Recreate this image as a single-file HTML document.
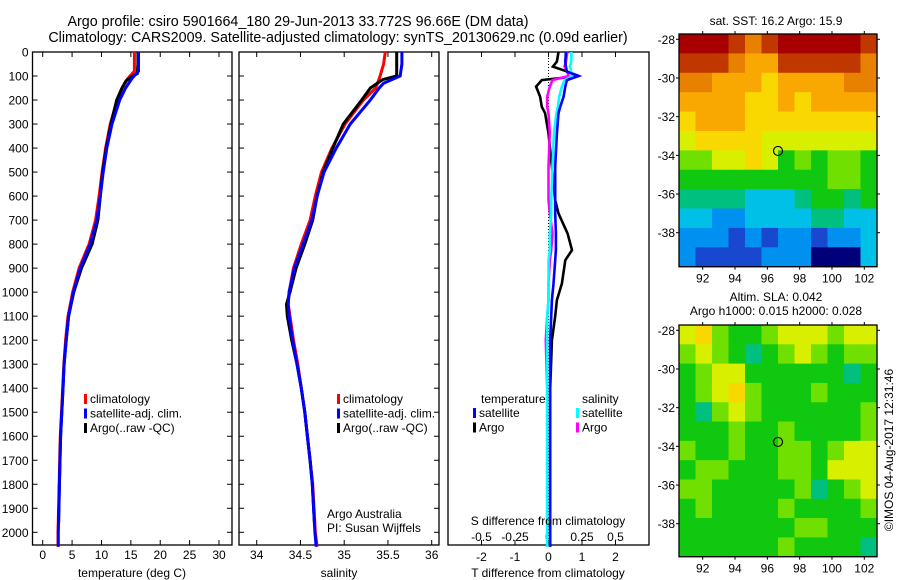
<!DOCTYPE html>
<html><head><meta charset="utf-8"><style>
html,body{margin:0;padding:0;background:#fff;}
svg{display:block;font-family:"Liberation Sans",sans-serif;}
text{fill:#000;}
</style></head><body>
<svg id="c" width="900" height="580" viewBox="0 0 900 580">
<text x="298" y="26" font-size="14.3" text-anchor="middle">Argo profile: csiro 5901664_180 29-Jun-2013 33.772S 96.66E (DM data)</text>
<text x="338" y="42" font-size="14.3" text-anchor="middle">Climatology: CARS2009. Satellite-adjusted climatology: synTS_20130629.nc (0.09d earlier)</text>
<g id="p1"></g>
<g id="p2"></g>
<g id="p3"></g>
<g id="m1"></g>
<g id="m2"></g>
<text x="776" y="25" font-size="12" text-anchor="middle">sat. SST: 16.2 Argo: 15.9</text>
<text x="776" y="301" font-size="12" text-anchor="middle">Altim. SLA: 0.042</text>
<text x="776" y="315" font-size="12" text-anchor="middle">Argo h1000: 0.015 h2000: 0.028</text>
<text transform="translate(893,450) rotate(-90)" font-size="12" text-anchor="middle">©IMOS 04-Aug-2017 12:31:46</text>
<text x="327" y="518" font-size="12">Argo Australia</text>
<text x="327" y="532" font-size="12">PI: Susan Wijffels</text>
</svg>
<script>
const NS="http://www.w3.org/2000/svg";
// ---- data ----
const tDepth=[0,50,80,110,150,200,300,400,500,600,700,800,900,1000,1100,1200,1300,1400,1500,1600,1700,1800,1900,2000,2060];
const tClim=[15.6,15.6,15.6,14.5,13.5,12.7,11.5,10.7,10.1,9.6,9.0,7.9,6.2,5.1,4.3,3.9,3.6,3.4,3.2,3.0,2.9,2.8,2.7,2.6,2.6];
const tSat=[16.3,16.3,16.3,15.2,14.1,13.1,11.8,10.9,10.3,9.8,9.2,8.1,6.4,5.2,4.4,4.0,3.65,3.45,3.25,3.05,2.95,2.85,2.75,2.65,2.65];
const argoDepth=[0,50,90,105,120,150,200,300,400,500,600,700,800,900,1000,1100,1200,1300,1400,1500,1600,1700,1800,1900,1960];
const tArgo=[16.2,16.2,16.1,15.0,14.2,13.5,12.6,11.6,10.8,10.2,9.8,9.4,8.4,6.6,5.3,4.4,4.0,3.65,3.45,3.25,3.05,2.95,2.85,2.75,2.7];
const sDepth=[0,50,100,130,150,200,300,400,500,600,700,800,900,1000,1050,1100,1200,1300,1400,1500,1600,1700,1800,1900,2000,2060];
const sClim=[35.47,35.45,35.41,35.38,35.36,35.22,35.01,34.86,34.74,34.67,34.61,34.51,34.42,34.37,34.36,34.38,34.42,34.47,34.51,34.55,34.58,34.61,34.64,34.655,34.67,34.69];
const sSat=[35.66,35.66,35.64,35.45,35.40,35.30,35.07,34.91,34.77,34.69,34.63,34.53,34.43,34.37,34.36,34.37,34.41,34.46,34.51,34.55,34.58,34.61,34.635,34.65,34.665,34.68];
const sArgoDepth=[0,50,100,115,150,200,300,400,500,600,700,800,900,1000,1050,1100,1200,1300,1400,1500,1600,1700,1800,1900,1960];
const sArgo=[35.60,35.60,35.60,35.44,35.30,35.20,34.99,34.87,34.76,34.69,34.64,34.55,34.45,34.38,34.34,34.35,34.40,34.46,34.51,34.55,34.58,34.61,34.635,34.65,34.66];
const dDepth=[0,40,61,82,100,117,144,186,228,255,339,478,617,672,756,825,867,964,1033,1100,1200,1400,1600,1800,2060];
const dTArgo=[0.3,0.25,0.13,0.57,0.9,-0.2,-0.37,-0.25,-0.2,-0.1,0,0.1,0.2,0.3,0.57,0.7,0.5,0.4,0.25,0.2,0.1,0.05,0.05,0.05,0.05];
const dTSat=[0.52,0.5,0.52,0.55,0.9,0.55,0.5,0.45,0.35,0.3,0.25,0.2,0.2,0.2,0.22,0.22,0.2,0.15,0.1,0.08,0.05,0.05,0.05,0.05,0.05];
const dSArgo=[0.14,0.13,0.12,0.14,0.15,0.03,0.01,-0.01,-0.01,0.0,0.01,0.0,0.0,0.01,0.03,0.02,0.01,0.0,0.0,-0.01,-0.02,-0.01,-0.01,-0.01,-0.01];
const dSSat=[0.17,0.17,0.16,0.17,0.18,0.12,0.1,0.08,0.07,0.06,0.04,0.03,0.02,0.02,0.01,0.01,0.0,0.0,0.0,-0.01,-0.01,-0.01,-0.01,-0.01,-0.01];
const depthTicks=[0,100,200,300,400,500,600,700,800,900,1000,1100,1200,1300,1400,1500,1600,1700,1800,1900,2000];
const tTicks=[0,5,10,15,20,25,30];
const sTicks=[34,34.5,35,35.5,36];
const sTickLabels=["34","34.5","35","35.5","36"];
const dTTicks=[-2,-1,0,1,2];
const dSTicks=[-0.5,-0.25,0,0.25,0.5];
const dSTickLabels=["-0.5","-0.25","0","0.25","0.5"];
const lonTicks=[92,94,96,98,100,102];
const latTicks=[-28,-30,-32,-34,-36,-38];
const floatLon=96.66, floatLat=-33.772;
const sstGrid=[
[12,12,12,11,10,11,12,12,12,12,12,11],
[11,11,11,10,9,9,11,11,11,11,11,10],
[10,10,9,9,9,8,9,9,9,9,10,10],
[9,9,9,9,8,8,9,8,9,9,9,9],
[8,9,9,9,8,8,8,8,8,8,8,8],
[7,8,8,8,8,7,7,7,7,7,7,7],
[6,6,7,7,8,7,5,6,5,6,6,5],
[5,5,5,5,5,5,5,5,5,6,6,5],
[4,4,4,4,3,3,3,4,5,5,4,5],
[3,3,2,2,3,3,3,3,4,4,3,3],
[2,2,2,1,2,1,2,2,1,2,2,3],
[2,1,1,1,1,2,2,2,0,0,0,3]];
const slaGrid=[
[7,8,6,5,5,6,7,7,7,6,7,7],
[6,7,6,5,4,5,6,7,6,5,6,6],
[5,6,7,7,5,5,5,5,5,5,4,5],
[5,6,7,8,6,5,5,5,6,5,5,5],
[5,4,6,7,6,5,5,5,5,5,5,6],
[5,5,5,6,5,5,6,5,5,5,5,6],
[6,5,5,6,5,5,6,6,5,6,7,7],
[5,6,6,5,5,5,6,6,5,7,7,7],
[6,6,5,5,5,5,5,6,4,5,6,7],
[5,6,5,5,5,5,6,5,5,5,5,6],
[5,5,5,5,5,5,5,6,6,5,5,5],
[5,5,5,5,5,5,6,5,5,5,5,4]];
const palette=["#00007a","#1848d0","#0090f0","#00c0e8","#00c080","#10c810","#70e000","#d8f000","#f8d800","#f8a800","#e88000","#c03800","#a80000"];
// ---- helpers ----
function el(tag,attrs,parent){const e=document.createElementNS(NS,tag);for(const k in attrs)e.setAttribute(k,attrs[k]);parent.appendChild(e);return e;}
function lin(d0,d1,r0,r1){return v=>r0+(v-d0)*(r1-r0)/(d1-d0);}
const Y=lin(0,2000,52,532.3);
const TOP=52,BOT=545;
function frame(g,x0,x1,name){const r=el('rect',{x:x0,y:TOP,width:x1-x0,height:BOT-TOP,fill:'none',stroke:'#000','stroke-width':1.3},g);}
function yTicks(g,x0,x1,labels){depthTicks.forEach(d=>{const y=Y(d);
 el('line',{x1:x0,y1:y,x2:x0+5,y2:y,stroke:'#000'},g);el('line',{x1:x1-5,y1:y,x2:x1,y2:y,stroke:'#000'},g);
 if(labels){const t=el('text',{x:x0-4,y:y+4.5,'font-size':12,'text-anchor':'end'},g);t.textContent=d;}});}
function xTicks(g,vals,labs,X,ly,nm,both){vals.forEach((v,i)=>{const x=X(v);
 el('line',{x1:x,y1:BOT,x2:x,y2:BOT-5,stroke:'#000'},g);if(both)el('line',{x1:x,y1:TOP,x2:x,y2:TOP+5,stroke:'#000'},g);
 const t=el('text',{x:x,y:ly,'font-size':12,'text-anchor':'middle'},g);t.textContent=labs[i];});}
function poly(g,xs,ds,X,color,w,name){const pts=xs.map((v,i)=>X(v).toFixed(1)+','+Y(ds[i]).toFixed(1)).join(' ');const p=el('polyline',{points:pts,fill:'none',stroke:color,'stroke-width':w,'stroke-linejoin':'miter'},g);}
function legend(g,x,y,items){items.forEach((it,i)=>{const yy=y+i*14.5;el('rect',{x:x,y:yy-9,width:3,height:10,fill:it[1]},g);const t=el('text',{x:x+6,y:yy,'font-size':12},g);t.textContent=it[0];});}
function txt(g,x,y,s,anchor,name){const t=el('text',{x:x,y:y,'font-size':12,'text-anchor':anchor||'start'},g);t.textContent=s;return t;}
// ---- panel 1 ----
const g1=document.getElementById('p1');
const X1=lin(0,30,42.7,219);
frame(g1,32.5,232,'temperature-axes');yTicks(g1,32.5,232,true);
xTicks(g1,tTicks,tTicks.map(String),X1,559,'temperature-tick-label',true);
txt(g1,132,577,'temperature (deg C)','middle','temperature-axis-title');
poly(g1,tClim,tDepth,X1,'#f00',3,'temperature-climatology-line');
poly(g1,tArgo,argoDepth,X1,'#000',3,'temperature-argo-line');
poly(g1,tSat,tDepth,X1,'#00f',3,'temperature-satellite-line');
legend(g1,84,403,[['climatology','#f00'],['satellite-adj. clim.','#00f'],['Argo(..raw -QC)','#000']]);
// ---- panel 2 ----
const g2=document.getElementById('p2');
const X2=lin(34,36,256.7,431.7);
frame(g2,239,439,'salinity-axes');yTicks(g2,239,439,false);
xTicks(g2,sTicks,sTickLabels,X2,559,'salinity-tick-label',true);
txt(g2,339,577,'salinity','middle','salinity-axis-title');
poly(g2,sClim,sDepth,X2,'#f00',3,'salinity-climatology-line');
poly(g2,sArgo,sArgoDepth,X2,'#000',3,'salinity-argo-line');
poly(g2,sSat,sDepth,X2,'#00f',3,'salinity-satellite-line');
legend(g2,337,403,[['climatology','#f00'],['satellite-adj. clim.','#00f'],['Argo(..raw -QC)','#000']]);
// ---- panel 3 ----
const g3=document.getElementById('p3');
const XT=lin(-3,3,448,649);
const XS=lin(-0.75,0.75,448,649);
frame(g3,448,649,'difference-axes');
el('line',{x1:XT(0),y1:TOP,x2:XT(0),y2:BOT,stroke:'#000','stroke-dasharray':'1,2','stroke-width':1},g3);
dTTicks.forEach(v=>{el('line',{x1:XT(v),y1:TOP,x2:XT(v),y2:TOP+5,stroke:'#000'},g3);el('line',{x1:XT(v),y1:BOT,x2:XT(v),y2:BOT-5,stroke:'#000'},g3);});
dTTicks.forEach(v=>{txt(g3,XT(v),561,String(v),'middle','t-diff-tick-label');});
dSTicks.forEach((v,i)=>{txt(g3,XS(v),541,dSTickLabels[i],'middle','s-diff-tick-label');});
poly(g3,dTArgo,dDepth,XT,'#000',2.6,'t-diff-argo-line');
poly(g3,dSArgo,dDepth,XS,'#f0f',2.6,'s-diff-argo-line');
poly(g3,dSSat,dDepth,XS,'#0ff',2.6,'s-diff-satellite-line');
poly(g3,dTSat,dDepth,XT,'#00f',2.6,'t-diff-satellite-line');
txt(g3,548,525,'S difference from climatology','middle','s-diff-axis-title');
txt(g3,548,577,'T difference from climatology','middle','t-diff-axis-title');
txt(g3,481,403,'temperature','start','legend-temperature-header');
txt(g3,582,403,'salinity','start','legend-salinity-header');
legend(g3,473,417,[['satellite','#00f'],['Argo','#000']]);
legend(g3,576,417,[['satellite','#0ff'],['Argo','#f0f']]);
// ---- maps ----
function map(id,grid,top,bot,name){const g=document.getElementById(id);
 const x0=679,x1=877;const LX=lin(92,102,702.7,864.3);const LY=lin(-28,-38,top+5.3,top+5.3+193.4);
 const rows=grid.length,cols=grid[0].length;const cw=(x1-x0)/cols,ch=(bot-top)/rows;
 grid.forEach((row,r)=>row.forEach((v,c)=>{const rc=el('rect',{x:(x0+c*cw).toFixed(2),y:(top+r*ch).toFixed(2),width:(cw+0.6).toFixed(2),height:(ch+0.6).toFixed(2),fill:palette[v]},g);
  }));
 const f=el('rect',{x:x0,y:top,width:x1-x0,height:bot-top,fill:'none',stroke:'#000','stroke-width':1.3},g);
 lonTicks.forEach(v=>{const x=LX(v);el('line',{x1:x,y1:top-3,x2:x,y2:top,stroke:'#000'},g);el('line',{x1:x,y1:bot,x2:x,y2:bot+3,stroke:'#000'},g);txt(g,x,bot+16,String(v),'middle','longitude-tick-label');});
 latTicks.forEach(v=>{const y=LY(v);el('line',{x1:x0-3,y1:y,x2:x0,y2:y,stroke:'#000'},g);el('line',{x1:x1,y1:y,x2:x1+3,y2:y,stroke:'#000'},g);txt(g,x0-4,y+4.5,String(v),'end','latitude-tick-label');});
 const m=el('circle',{cx:LX(floatLon),cy:LY(floatLat),r:4.5,fill:'none',stroke:'#000','stroke-width':1.2},g);}
map('m1',sstGrid,34,266.7,'sst-map');
map('m2',slaGrid,325,556.7,'sla-map');
</script>
</body></html>
